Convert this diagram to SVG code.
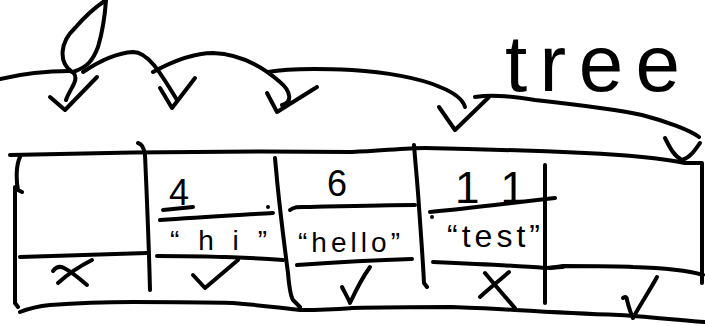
<svg xmlns="http://www.w3.org/2000/svg" width="705" height="326" viewBox="0 0 705 326">
<style>
.s{fill:none;stroke:#000;stroke-width:4;stroke-linecap:round;stroke-linejoin:round}
.t{font-family:"Liberation Sans",Arial,sans-serif;fill:#000}
</style>
<rect width="705" height="326" fill="#fff"/>
<g id="connectors">
<path class="s" d="M0,79 C25,73 50,71 70,71"/>
<path class="s" d="M72,72 C58,62 60,42 75,28 C86,15 97,6 106,0 M106,0 C105,15 103,30 98,47 C93,60 88,67 73,72 C80,80 70,88 66,100"/>
<path class="s" d="M50,97 L65,110 L97,77"/>
<path class="s" d="M83,72 C95,64 115,53 133,52 C148,52 160,72 177,100"/>
<path class="s" d="M160,88 L172,108 L195,78"/>
<path class="s" d="M153,72 C175,60 195,53 213,53 C240,54 262,66 280,82 C292,92 292,103 282,105"/>
<path class="s" d="M267,93 L277,112 L317,87"/>
<path class="s" d="M268,72 C290,68 330,69 352,70 C385,72 420,78 440,87 C455,93 463,100 465,107"/>
<path class="s" d="M439,107 L455,130 L489,97"/>
<path class="s" d="M475,97 C495,94 515,97 535,100 C580,105 620,110 642,115 C665,121 690,130 699,137"/>
<path class="s" d="M665,138 C670,148 674,156 682,160 C690,158 695,150 700,143"/>
</g>
<g id="title">
<text class="t" x="505" y="91" font-size="80" textLength="175" lengthAdjust="spacing">tree</text>
</g>
<g id="table">
<path class="s" d="M10,155 C120,152 250,151 352,152 C380,151 405,148 425,148 C480,149 540,151 585,153 C630,155 660,158 685,163 L702,163 L702,283"/>
<path class="s" d="M20,157 C16,165 16,180 18,190 L22,192 M15,187 L15,303 L18,307"/>
<path class="s" d="M20,312 C30,308 40,306 50,305 C90,302 110,302 133,302 C170,302 200,302 233,303 C260,305 280,308 300,310 C330,310 340,309 352,308 C390,307 420,307 452,307 C480,308 500,309 515,310 C550,312 590,314 619,315 C650,317 680,320 705,322"/>
<path class="s" d="M138,143 C142,144 144,147 145,155 C147,200 149,250 150,290"/>
<path class="s" d="M275,158 C276,170 277,178 277,180 C281,220 285,250 288,273 C289,285 290,295 293,300 L300,307"/>
<path class="s" d="M414,145 C416,170 418,190 419,207 C421,235 423,262 424,283 L427,287"/>
<path class="s" d="M545,165 L545,303"/>
<path class="s" d="M20,257 C60,256 110,254 147,253"/>
<path class="s" d="M157,256 C200,256 240,257 283,260"/>
<path class="s" d="M297,265 C340,262 380,260 412,259"/>
<path class="s" d="M433,262 C480,264 520,266 545,268 L563,267"/>
<path class="s" d="M550,268 L563,266 C600,266 620,266 633,267 C670,268 690,271 703,275"/>
<path class="s" d="M160,220 C200,217 240,215 273,213"/>
<path class="s" d="M290,210 C295,206 300,207 310,207 C350,206 385,205 415,205"/>
<path class="s" d="M430,212 C470,208 510,203 555,198"/>
</g>
<g id="cell-1">
<path class="s" d="M53,271 C56,267 60,266 64,268 C72,272 80,279 87,285 M92,260 C80,266 68,274 58,283"/>
</g>
<g id="cell-2">
<text class="t" x="179" y="205" font-size="36" text-anchor="middle">4</text>
<path class="s" d="M163,210 L193,207"/>
<circle cx="268" cy="207" r="2" fill="#000"/>
<text class="t" x="170" y="250" font-size="28" textLength="97" lengthAdjust="spacing">“hi”</text>
<path class="s" d="M193,275 L205,288 L238,260"/>
</g>
<g id="cell-3">
<text class="t" x="337" y="196" font-size="36" text-anchor="middle">6</text>
<text class="t" x="298" y="252" font-size="28" textLength="102" lengthAdjust="spacing">“hello”</text>
<path class="s" d="M342,287 C345,293 348,298 350,303 C356,290 362,278 370,267"/>
</g>
<g id="cell-4">
<text class="t" x="455" y="203" font-size="44" textLength="70" lengthAdjust="spacing">11</text>
<circle cx="432" cy="217" r="2" fill="#000"/>
<text class="t" x="447" y="247" font-size="32" textLength="93" lengthAdjust="spacing">“test”</text>
<path class="s" d="M480,297 C490,288 500,280 509,272 M485,273 C495,285 505,297 515,308"/>
</g>
<g id="cell-5">
<path class="s" d="M623,298 C625,296 627,297 627,300 C629,308 631,314 633,318 C640,305 650,290 657,277"/>
</g>
</svg>
